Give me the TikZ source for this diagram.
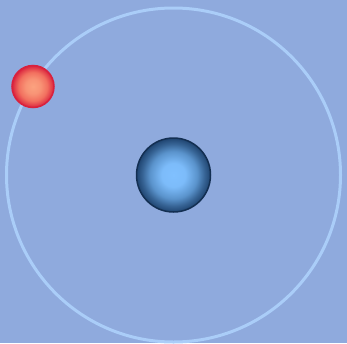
\documentclass[tikz,border=0pt]{standalone}
\usepackage{xcolor}
\usepackage{tikz}
\usetikzlibrary{positioning}

\definecolor{bgblue}{HTML}{8FAADD}
\definecolor{orbitblue}{HTML}{AACDF8}
\definecolor{redin}{HTML}{FBA27F}
\definecolor{redmid}{HTML}{F2705F}
\definecolor{redout}{HTML}{D9213D}
\definecolor{blueinner}{HTML}{80C0FF}
\definecolor{bluemid}{HTML}{5A93CC}
\definecolor{blueouter}{HTML}{1F4470}
\definecolor{blueedge}{HTML}{132F52}

% the visible circle ends at about 25bp of the shading
\pgfdeclareradialshading{redball}{\pgfpoint{0bp}{0bp}}{%
  color(0bp)=(redin); color(9bp)=(redin!70!redmid); color(17bp)=(redmid);
  color(22bp)=(redmid!40!redout); color(25bp)=(redout); color(50bp)=(redout)}
\pgfdeclareradialshading{blueball}{\pgfpoint{0bp}{0bp}}{%
  color(0bp)=(blueinner); color(8bp)=(blueinner!90!bluemid); color(16bp)=(bluemid);
  color(21bp)=(bluemid!40!blueouter); color(25bp)=(blueouter); color(50bp)=(blueouter)}

\begin{document}
\begin{tikzpicture}[x=1pt,y=-1pt,
                    orbit/.style={draw=orbitblue,line width=3pt},
                    electron/.style={circle,shading=redball,draw=redout,line width=1.5pt,
                                     minimum size=42pt,inner sep=0pt},
                    nucleus/.style={circle,shading=blueball,draw=blueedge,line width=1.5pt,
                                    minimum size=74pt,inner sep=0pt}]
    \fill[bgblue] (0,0) rectangle (347,343);
    \useasboundingbox (0,0) rectangle (347,343);

    \node[nucleus] (core) at (173.5,175) {};
    \draw[orbit] (core.center) circle (167);
    \node[electron] (ball) at (33,86.5) {};
\end{tikzpicture}
\end{document}
